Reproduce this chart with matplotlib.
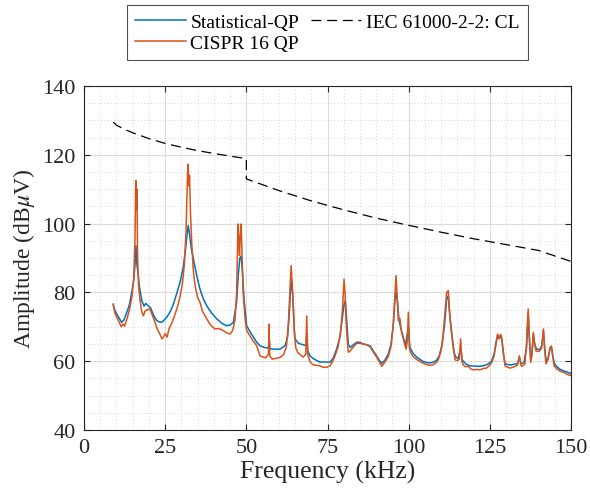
import numpy as np
import matplotlib
matplotlib.use('Agg')
import matplotlib.pyplot as plt

plt.rcParams['font.family'] = ['Liberation Serif', 'DejaVu Serif']
plt.rcParams['mathtext.fontset'] = 'stix'

# CISPR 16 QP detector (frequency kHz, amplitude dBuV)
cispr_f = [9.0, 9.5, 10.5, 11.5, 12.0, 12.5, 13.3, 14.0, 14.8, 15.3, 15.7, 15.9, 16.0, 16.1, 16.3, 16.5,
           16.8, 17.3, 17.8, 18.3, 18.8, 19.5, 20.3, 21.0, 21.8, 22.5, 23.3, 24.0, 24.4, 25.0, 25.6, 26.2,
           27.0, 28.0, 29.0, 29.6, 30.3, 30.9, 31.4, 31.7, 31.9, 32.1, 32.3, 32.5, 32.8, 33.2, 33.7, 34.2,
           35.0, 35.7, 36.5, 37.8, 39.0, 40.3, 41.5, 42.9, 44.0, 45.0, 45.8, 46.5, 47.0, 47.3, 47.5, 47.7,
           47.9, 48.1, 48.4, 48.7, 49.0, 49.6, 50.1, 51.0, 52.0, 53.2, 54.2, 55.0, 56.0, 56.8, 57.0, 57.2,
           58.0, 59.0, 60.4, 61.5, 62.3, 62.9, 63.4, 63.8, 64.1, 64.4, 64.8, 65.2, 65.8, 66.5, 67.5, 68.3,
           68.6, 68.9, 69.6, 70.5, 71.5, 72.5, 73.5, 74.7, 75.8, 76.5, 77.3, 78.2, 79.0, 79.6, 80.1, 80.4,
           80.7, 81.1, 81.4, 82.0, 83.0, 84.0, 85.0, 86.0, 87.0, 88.1, 89.0, 90.1, 91.0, 91.7, 92.5, 93.7,
           94.5, 95.2, 95.8, 96.1, 96.4, 96.8, 97.3, 97.7, 98.1, 98.5, 99.2, 99.6, 99.9, 100.2, 100.6, 101.4,
           102.5, 103.5, 104.5, 105.5, 106.5, 107.6, 108.5, 109.1, 109.8, 110.4, 111.0, 111.7, 112.2, 112.6,
           113.2, 113.8, 114.3, 115.0, 115.6, 116.0, 116.4, 116.8, 117.5, 118.4, 119.2, 119.9, 121.0, 122.0,
           123.0, 124.0, 124.8, 125.5, 126.3, 126.9, 127.4, 127.9, 128.3, 128.6, 129.1, 129.7, 130.4, 131.2,
           132.0, 132.7, 133.5, 134.1, 134.5, 134.8, 135.3, 135.8, 136.3, 136.8, 137.2, 137.6, 138.0, 138.4,
           138.8, 139.2, 139.8, 140.4, 141.0, 141.5, 141.9, 142.3, 142.9, 143.5, 143.9, 144.3, 144.8, 145.6,
           146.6, 147.6, 148.7, 149.7, 150.0]
cispr_a = [76.3, 74.0, 72.0, 70.0, 70.8, 70.2, 72.5, 75.0, 79.0, 84.0, 95.0, 110.0, 112.5, 104.0, 110.0, 90.0,
           82.0, 77.5, 74.3, 73.2, 74.6, 75.0, 75.2, 73.5, 71.5, 69.5, 68.0, 66.5, 66.9, 68.0, 67.0, 69.5,
           71.0, 73.5, 76.5, 79.0, 82.5, 88.0, 97.0, 108.0, 115.0, 117.3, 111.0, 114.0, 103.0, 94.0, 86.0, 82.0,
           78.5, 77.2, 74.5, 72.3, 70.5, 69.4, 69.5, 68.9, 68.2, 67.9, 69.0, 72.0, 80.0, 94.0, 99.9, 94.0,
           90.7, 96.0, 99.9, 90.0, 80.0, 72.5, 68.9, 67.5, 66.0, 64.5, 61.6, 61.2, 61.0, 62.0, 70.8, 61.5,
           60.6, 60.8, 61.1, 62.0, 64.0, 70.0, 80.0, 87.8, 83.0, 78.0, 68.0, 64.0, 62.6, 62.0, 61.2, 62.0,
           73.2, 62.0, 59.8, 59.0, 58.8, 58.7, 58.3, 58.2, 58.7, 59.8, 61.5, 64.0, 68.0, 75.0, 83.9, 80.0,
           72.0, 66.0, 62.6, 63.0, 64.2, 65.2, 65.2, 65.0, 64.8, 64.2, 62.8, 61.2, 59.8, 58.5, 59.5, 61.3,
           64.0, 70.0, 80.0, 84.9, 80.0, 71.8, 72.5, 69.0, 67.4, 66.0, 63.5, 66.0, 74.2, 64.0, 62.5, 61.3,
           60.5, 59.9, 59.4, 59.0, 58.8, 59.0, 59.6, 60.4, 62.5, 65.3, 72.0, 80.0, 80.5, 74.0,
           68.2, 63.5, 60.4, 60.2, 60.6, 66.5, 60.0, 58.9, 58.4, 58.5, 57.7, 57.5, 57.6, 57.5,
           57.9, 58.0, 58.7, 59.5, 61.5, 65.0, 67.9, 66.7, 67.8, 67.2, 63.0, 58.6, 58.3, 58.0,
           58.2, 58.5, 58.8, 61.6, 59.0, 58.5, 58.8, 59.2, 65.0, 75.2, 67.0, 59.7, 62.0, 68.4,
           65.0, 63.0, 62.8, 63.0, 64.0, 69.4, 63.0, 59.2, 60.5, 63.8, 64.4, 62.0, 58.6, 57.8,
           57.1, 56.8, 56.3, 55.8, 56.0]

# Statistical-QP detector
stat_f = [9.0, 9.5, 10.5, 11.6, 12.3, 13.3, 14.0, 14.7, 15.3, 15.7, 16.0, 16.3, 16.7, 17.0, 17.8, 18.5,
          19.0, 19.8, 20.5, 21.5, 22.4, 23.3, 23.9, 24.6, 25.5, 26.5, 27.5, 28.5, 29.6, 30.5, 31.2, 31.7,
          32.1, 32.5, 33.0, 33.7, 34.7, 35.7, 36.8, 37.8, 39.3, 40.9, 42.5, 43.9, 45.0, 46.0, 47.0, 47.5,
          48.0, 48.4, 48.8, 49.3, 50.1, 51.5, 53.2, 54.2, 55.5, 56.8, 57.0, 57.3, 58.5, 60.4, 61.9, 62.7,
          63.3, 63.8, 64.3, 64.7, 65.0, 66.0, 67.5, 68.4, 68.6, 68.9, 69.6, 70.7, 71.7, 72.7, 74.0, 75.8,
          76.8, 77.8, 78.8, 79.5, 80.1, 80.5, 80.9, 81.4, 82.0, 83.0, 84.0, 85.0, 86.0, 87.0, 88.1, 89.1,
          90.1, 91.0, 91.7, 92.6, 93.7, 94.6, 95.3, 95.8, 96.1, 96.6, 97.0, 97.6, 98.1, 99.0, 99.9, 100.4,
          101.4, 102.5, 103.5, 104.5, 105.5, 106.5, 107.6, 108.6, 109.4, 110.2, 111.0, 111.7, 112.2, 112.7,
          113.3, 114.0, 114.5, 115.3, 116.0, 116.5, 117.5, 118.4, 119.5, 120.5, 121.5, 122.5, 123.5, 124.5,
          125.5, 126.3, 126.9, 127.4, 127.9, 128.3, 128.7, 129.2, 129.7, 130.6, 131.6, 132.7, 133.5, 134.1,
          134.6, 135.5, 136.3, 136.8, 137.2, 137.6, 138.0, 138.4, 138.8, 139.4, 140.4, 141.0, 141.5, 142.0,
          142.4, 143.0, 143.6, 144.0, 144.4, 144.9, 145.8, 146.7, 147.7, 148.7, 149.7, 150.0]
stat_a = [76.6, 74.8, 73.0, 71.3, 72.0, 74.5, 76.5, 80.0, 83.5, 88.0, 93.6, 88.0, 85.3, 82.0, 77.6, 76.0,
          76.8, 76.1, 75.5, 73.2, 71.8, 71.4, 71.3, 71.9, 72.8, 74.3, 76.5, 79.5, 83.0, 87.0, 92.0, 96.5,
          99.4, 97.0, 93.0, 89.7, 85.0, 81.0, 78.0, 76.1, 74.0, 72.3, 71.0, 70.3, 70.5, 71.3, 77.1, 85.0,
          90.0, 90.5, 86.0, 78.0, 70.3, 68.0, 65.5, 64.5, 64.0, 63.8, 67.0, 63.6, 63.5, 63.5, 64.5, 67.0,
          75.0, 83.9, 79.0, 70.0, 66.5, 65.2, 64.8, 64.5, 68.0, 63.0, 61.6, 60.7, 60.2, 59.7, 59.8, 59.7,
          61.0, 63.5, 67.0, 72.0, 76.5, 77.6, 72.0, 65.0, 64.0, 64.8, 65.5, 65.5, 65.0, 64.8, 64.5, 63.0,
          61.6, 60.2, 59.4, 60.2, 62.0, 65.0, 71.0, 78.0, 80.2, 77.0, 72.0, 69.5, 67.8, 64.5, 70.0, 64.0,
          62.2, 61.2, 60.5, 59.9, 59.6, 59.5, 59.7, 60.3, 61.5, 64.5, 70.0, 78.0, 79.0, 73.0,
          67.8, 62.5, 61.2, 60.8, 64.0, 60.4, 59.3, 58.8, 58.6, 58.6, 58.5, 58.6, 58.8, 59.2,
          60.0, 62.0, 65.5, 67.5, 66.5, 67.4, 66.5, 62.0, 59.2, 59.0, 58.9, 59.2, 59.3, 61.0,
          59.3, 59.5, 64.0, 74.0, 66.0, 60.2, 62.5, 68.0, 65.0, 63.5, 63.4, 64.5, 69.0, 63.0,
          59.8, 61.0, 64.0, 64.2, 61.5, 59.2, 58.3, 57.6, 57.2, 56.9, 56.5, 56.6]

# IEC 61000-2-2 compatibility level
cl_f = [9.0, 10.0, 12.5, 15.0, 20.0, 25.0, 30.0, 35.0, 40.0, 45.0, 50.0,
        50.0, 55.0, 60.0, 70.0, 80.0, 90.0, 100.0, 110.0, 120.0, 130.0, 140.0, 150.0]
cl_a = [129.5, 128.6, 127.4, 126.4, 124.7, 123.3, 122.2, 121.2, 120.4, 119.6, 118.9,
        113.0, 111.3, 109.6, 106.6, 104.0, 101.6, 99.5, 97.5, 95.6, 93.9, 92.2, 89.0]

fig = plt.figure(figsize=(5.9, 5.02), dpi=100)
ax = fig.add_axes([0.1424, 0.1414, 0.8254, 0.6853])

l1, = ax.plot(stat_f, stat_a, color='#0072BD', lw=1.1, label='Statistical-QP')
l2, = ax.plot(cispr_f, cispr_a, color='#D95319', lw=1.1, label='CISPR 16 QP')
l3, = ax.plot(cl_f, cl_a, color='k', ls=(0, (8, 4.5)), lw=0.9, label='IEC 61000-2-2: CL')

ax.set_xlim(0, 150)
ax.set_ylim(40, 140)
ax.set_xticks(np.arange(0, 151, 25))
ax.set_yticks(np.arange(40, 141, 20))
ax.set_xticks(np.arange(0, 151, 5), minor=True)
ax.set_yticks(np.arange(40, 141, 5), minor=True)
ax.grid(which='major', color='#dcdcdc', lw=0.8)
ax.grid(which='minor', color='#c8c8c8', lw=0.6, ls=(0, (1, 3)))
ax.set_axisbelow(True)
ax.tick_params(which='major', direction='in', length=4, top=True, right=True,
               labelsize=16, colors='#262626', pad=6)
ax.tick_params(which='minor', length=0)
for s in ax.spines.values():
    s.set_color('#262626')
    s.set_linewidth(0.8)

ax.set_xlabel('Frequency (kHz)', fontsize=18.5, color='#262626', labelpad=2)
ax.set_ylabel(r'Amplitude (dB$\mu$V)', fontsize=17, color='#262626', labelpad=4)

leg = fig.legend(handles=[l1, l2, l3], ncol=2, loc='center', bbox_to_anchor=(0.555, 0.933),
                 fontsize=14, frameon=True, fancybox=False, handlelength=2.6,
                 handletextpad=0.25, columnspacing=0.6, labelspacing=0.2, borderpad=0.4)
leg.get_frame().set_edgecolor('#262626')
leg.get_frame().set_linewidth(0.8)

fig.savefig('out.png', dpi=100)
